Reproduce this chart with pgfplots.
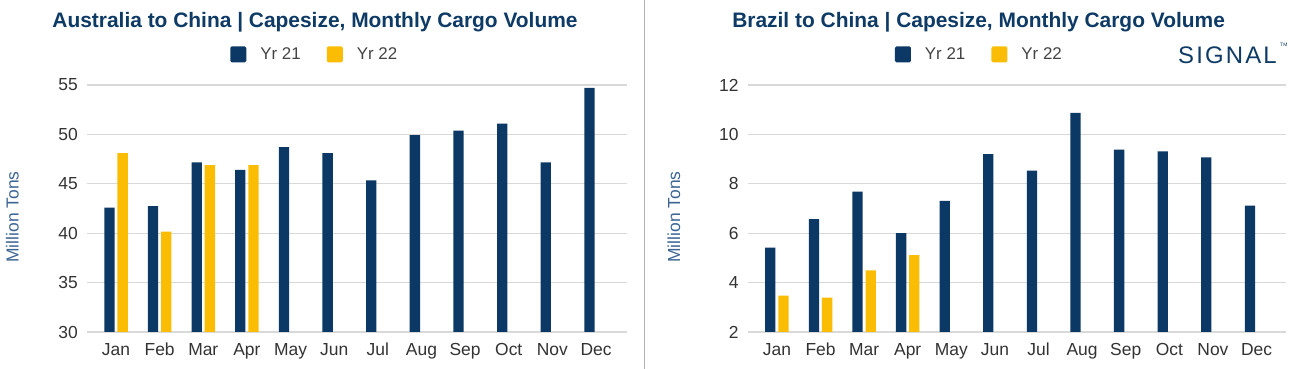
\documentclass[border=0pt]{standalone}
\usepackage{pgfplots}
\pgfplotsset{compat=1.18}
\usepackage{fontspec}
\setmainfont{Liberation Sans}
\newfontfamily\logofont[LetterSpace=9]{Liberation Sans}
\definecolor{navy}{RGB}{11,56,100}
\definecolor{gold}{RGB}{251,188,4}
\definecolor{titlec}{RGB}{14,58,102}
\definecolor{ylabc}{RGB}{61,101,148}
\definecolor{tickc}{RGB}{51,51,51}
\definecolor{legc}{RGB}{68,68,68}
\definecolor{gridc}{RGB}{217,217,217}
\definecolor{sepc}{RGB}{175,175,175}

\pgfplotsset{
  mybars/.style={
    scale only axis, height=247bp,
    ymajorgrids, grid style={gridc, line width=1.3bp},
    axis line style={draw=none}, major tick length=0pt,
    xtick={0,1,2,3,4,5,6,7,8,9,10,11},
    xticklabels={Jan,Feb,Mar,Apr,May,Jun,Jul,Aug,Sep,Oct,Nov,Dec},
    tick label style={font=\fontsize{17.5}{20}\selectfont, text=tickc},
    /pgf/number format/assume math mode=true,
    yticklabel style={anchor=east, inner sep=0pt, xshift=-9bp},
    xticklabel style={anchor=north, inner sep=0pt, text height=12.5bp, text depth=0pt, yshift=-11bp},
    ybar=2.9bp, bar width=10.3bp,
    legend columns=2,
    legend image code/.code={\fill[##1, rounded corners=1.5bp] (0bp,-8bp) rectangle (16bp,8bp);},
    legend style={draw=none, fill=none, inner sep=0pt, anchor=center,
      font=\fontsize{17}{20}\selectfont, text=legc,
      nodes={inner sep=0pt},
      /tikz/every odd column/.append style={column sep=14bp},
      /tikz/every even column/.append style={column sep=26bp}},
  }
}

\begin{document}
\begin{tikzpicture}
\useasboundingbox (0,0) rectangle (1294bp,369bp);
\fill[white] (0,0) rectangle (1294bp,369bp);
\draw[sepc, line width=1bp] (644bp,0) -- (644bp,369bp);

% Left chart
\node[anchor=base, text=titlec, font=\fontsize{21}{24}\selectfont\bfseries] at (315bp,341.7bp) {Australia to China | Capesize, Monthly Cargo Volume};
\node[rotate=90, anchor=center, text=ylabc, font=\fontsize{17.5}{20}\selectfont] at (12.5bp,152bp) {Million Tons};
\begin{axis}[mybars, at={(87bp,37bp)}, anchor=south west, width=540bp,
  xmin=-0.665, xmax=11.71, ymin=30, ymax=55, ytick={30,35,40,45,50,55},
  legend style={at={(0.42,1.124)}}]
\addplot[fill=navy, draw=none] coordinates {(0,42.6) (1,42.75) (2,47.17) (3,46.4) (4,48.7) (5,48.1) (6,45.35) (7,49.93) (8,50.37) (9,51.1) (10,47.17) (11,54.7)};
\addplot[fill=gold, draw=none] coordinates {(0,48.1) (1,40.15) (2,46.9) (3,46.9)};
\legend{Yr 21, Yr 22}
\end{axis}

% Right chart
\node[anchor=base, text=titlec, font=\fontsize{21}{24}\selectfont\bfseries] at (978.6bp,341.7bp) {Brazil to China | Capesize, Monthly Cargo Volume};
\node[rotate=90, anchor=center, text=ylabc, font=\fontsize{17.5}{20}\selectfont] at (674bp,152bp) {Million Tons};
\begin{axis}[mybars, at={(747.7bp,37bp)}, anchor=south west, width=537.8bp,
  xmin=-0.67, xmax=11.665, ymin=2, ymax=12, ytick={2,4,6,8,10,12},
  legend style={at={(0.429,1.124)}}]
\addplot[fill=navy, draw=none] coordinates {(0,5.42) (1,6.57) (2,7.68) (3,6.0) (4,7.31) (5,9.2) (6,8.53) (7,10.87) (8,9.38) (9,9.31) (10,9.07) (11,7.12)};
\addplot[fill=gold, draw=none] coordinates {(0,3.47) (1,3.39) (2,4.49) (3,5.11)};
\legend{Yr 21, Yr 22}
\end{axis}

% Logo
\node[anchor=base west, inner sep=0pt, text=titlec, font=\logofont\fontsize{24}{28}\selectfont] at (1178bp,305bp) {SIGNAL};
\node[anchor=north west, inner sep=0pt, text=titlec, font=\fontsize{5}{6}\selectfont] at (1280bp,326bp) {TM};
\end{tikzpicture}
\end{document}
